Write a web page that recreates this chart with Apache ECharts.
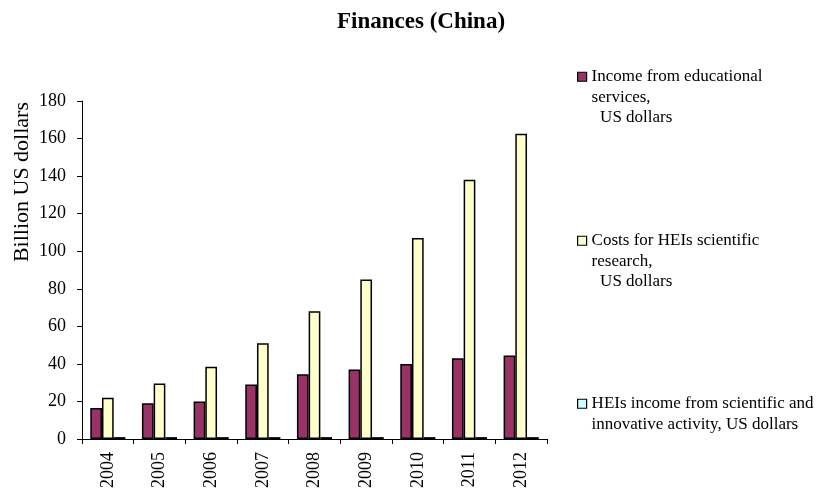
<!DOCTYPE html>
<html><head><meta charset="utf-8">
<script src="https://cdn.jsdelivr.net/npm/echarts@6/dist/echarts.min.js"></script>
<style>html,body{margin:0;padding:0;background:#fff}#c{width:816px;height:488px}</style>
</head><body><div id="c"></div>
<script>
var categories = ['2004','2005','2006','2007','2008','2009','2010','2011','2012'];
var incomeEdu = [16.5, 19, 20, 29, 34.5, 37, 40, 43, 44.5];
var costsResearch = [22, 29.5, 38.5, 51, 68, 85, 107, 138, 162.5];
var incomeInnov = [1, 1, 1, 1, 1, 1, 1, 1, 1];
var seriesNames = [
  'Income from educational\nservices,\n  US dollars',
  'Costs for HEIs scientific\nresearch,\n  US dollars',
  'HEIs income from scientific and\ninnovative activity, US dollars'
];
var yTicks = {min: 0, max: 180, interval: 20};

var font = '"Liberation Serif", "Times New Roman", serif';
var chart = echarts.init(document.getElementById('c'));
function leg(name, top, extra) {
  return {
    data: [name], orient: 'vertical', left: 577, top: top, padding: 0,
    itemWidth: 9, itemHeight: 9, itemGap: 0, icon: 'rect', selectedMode: false,
    formatter: function (n) { return extra + n; },
    textStyle: {fontFamily: font, fontSize: 17, color: '#000', lineHeight: 20.5},
    itemStyle: {borderColor: '#000', borderWidth: 1.2}
  };
}
function ser(name, data, color) {
  return {
    name: name, type: 'bar', data: data, barGap: 0, barCategoryGap: '32%',
    itemStyle: {color: color, borderColor: '#000', borderWidth: 1.5}
  };
}
chart.setOption({
  animation: false,
  title: {text: 'Finances (China)', left: 332, top: 6,
    textStyle: {fontFamily: font, fontSize: 23, fontWeight: 'bold', color: '#000'}},
  legend: [
    leg(seriesNames[0], 25.5, ' \n \n'),
    leg(seriesNames[1], 189.5, ' \n \n'),
    leg(seriesNames[2], 373, ' \n')
  ],
  grid: {left: 82, right: 269, top: 101, bottom: 49, containLabel: false, outerBoundsMode: 'none'},
  xAxis: {
    type: 'category', data: categories,
    axisLine: {lineStyle: {color: '#000', width: 1}},
    axisTick: {show: true, length: 5, lineStyle: {color: '#000'}},
    axisLabel: {rotate: 90, fontFamily: font, fontSize: 18, color: '#000', margin: 13}
  },
  yAxis: {
    type: 'value', min: yTicks.min, max: yTicks.max, interval: yTicks.interval,
    splitLine: {show: false},
    axisLine: {show: true, lineStyle: {color: '#000', width: 1}},
    axisTick: {show: true, length: 5, lineStyle: {color: '#000'}},
    axisLabel: {fontFamily: font, fontSize: 18, color: '#000', margin: 16}
  },
  graphic: [{
    type: 'text', left: 11, top: 102, rotation: Math.PI / 2,
    style: {text: 'Billion US dollars', font: '22px ' + font, fill: '#000'}
  }],
  series: [
    ser(seriesNames[0], incomeEdu, '#993366'),
    ser(seriesNames[1], costsResearch, '#FFFFCC'),
    ser(seriesNames[2], incomeInnov, '#CCFFFF')
  ]
});
</script></body></html>
